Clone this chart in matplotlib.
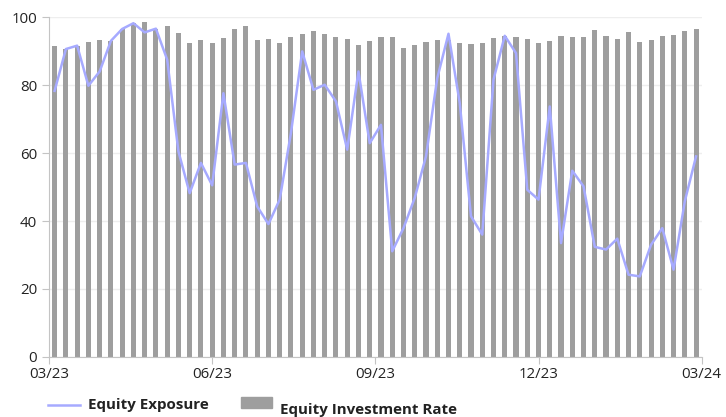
import matplotlib.pyplot as plt
from matplotlib.lines import Line2D
from matplotlib.patches import Rectangle
import numpy as np

plt.rcParams['font.family'] = ['Open Sans', 'DejaVu Sans']

# weekly readings, 03/23 .. 03/24
investment_rate = [91.6, 90.6, 91.6, 92.7, 93.3, 93.0, 96.5, 98.2, 98.6, 96.6,
                   97.5, 95.4, 92.3, 93.3, 92.5, 93.9, 96.6, 97.5, 93.3, 93.6,
                   92.5, 94.2, 95.1, 96.0, 95.1, 94.2, 93.6, 91.9, 93.0, 94.2,
                   94.2, 91.0, 91.9, 92.7, 93.3, 93.3, 92.5, 92.2, 92.5, 93.9,
                   94.5, 94.2, 93.6, 92.5, 93.0, 94.5, 94.2, 94.2, 96.3, 94.5,
                   93.6, 95.7, 92.7, 93.3, 94.5, 94.8, 96.0, 96.6]
exposure = [78.3, 90.6, 91.6, 79.8, 84.0, 93.0, 96.5, 98.2, 95.5, 96.6,
            87.5, 60.5, 48.2, 57.1, 50.5, 77.6, 56.6, 57.1, 44.3, 39.1,
            46.3, 65.9, 89.9, 78.6, 80.1, 75.2, 61.0, 84.0, 62.9, 68.3,
            31.1, 37.9, 46.8, 59.0, 82.0, 95.1, 74.7, 41.4, 36.0, 81.6,
            94.5, 89.4, 49.2, 46.3, 73.7, 33.5, 54.8, 50.2, 32.4, 31.6,
            34.8, 24.2, 23.7, 33.0, 37.9, 25.7, 45.8, 59.0]
tick_labels = ['03/23', '06/23', '09/23', '12/23', '03/24']

line_color = '#a6aaff'
bar_color = '#9e9e9e'

n = len(investment_rate)
x = np.arange(n)

fig = plt.figure(figsize=(7.26, 4.17), dpi=100)
ax = fig.add_axes([0.0675, 0.144, 0.899, 0.815])

ax.bar(x, investment_rate, width=0.45, color=bar_color, zorder=2)
ax.plot(x, exposure, color=line_color, lw=1.8, zorder=3)

ax.set_xlim(-0.5, n - 0.5)
ax.set_ylim(0, 100)
ax.set_xticks(np.linspace(-0.5, n - 0.5, len(tick_labels)))
ax.set_xticklabels(tick_labels)
ax.set_yticks(range(0, 101, 20))
ax.yaxis.grid(True, color='#eeeeee', lw=1, zorder=0)
ax.set_axisbelow(True)

for s in ['top', 'right']:
    ax.spines[s].set_visible(False)
for s in ['left', 'bottom']:
    ax.spines[s].set_color('#c4c4c4')
ax.tick_params(axis='both', colors='#c4c4c4', labelcolor='#222222',
               labelsize=10.8, length=5)
ax.tick_params(axis='x', pad=2)

# legend drawn by hand so the two entries sit like the original
fig.add_artist(Line2D([0.066, 0.110], [0.029, 0.029], color=line_color,
                      lw=1.8, transform=fig.transFigure))
fig.text(0.121, 0.029, 'Equity Exposure', fontsize=10.9, fontweight='bold',
         color='#222222', va='center')
fig.add_artist(Rectangle((0.332, 0.0216), 0.0427, 0.0264, color=bar_color,
                         transform=fig.transFigure))
fig.text(0.3857, 0.017, 'Equity Investment Rate', fontsize=10.9,
         fontweight='bold', color='#222222', va='center')

fig.savefig('out.png', dpi=100)
